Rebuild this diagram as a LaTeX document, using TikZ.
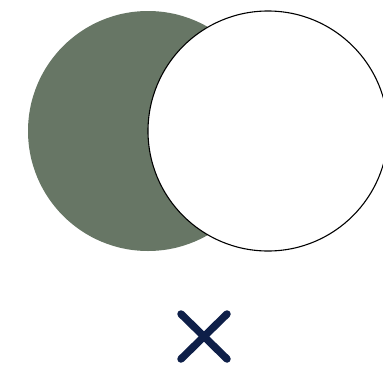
\documentclass[tikz,border=0pt]{standalone}
\definecolor{sage}{RGB}{103,118,101}
\definecolor{navy}{RGB}{14,31,72}
\begin{document}
\begin{tikzpicture}[x=1pt,y=-1pt,
  outline/.style={draw=black,line width=1.1pt,fill=white},
  crossline/.style={draw=navy,line width=7.5pt,line cap=round}]
\useasboundingbox (0,0) rectangle (383,378);
\fill[sage] (148,131) circle (120);
\draw[outline] (268,131) circle (120);
\coordinate (c1) at (181,314);
\coordinate (c2) at (227,359);
\coordinate (c3) at (227,314);
\coordinate (c4) at (181,359);
\draw[crossline] (c1) -- (c2);
\draw[crossline] (c3) -- (c4);
\end{tikzpicture}
\end{document}
